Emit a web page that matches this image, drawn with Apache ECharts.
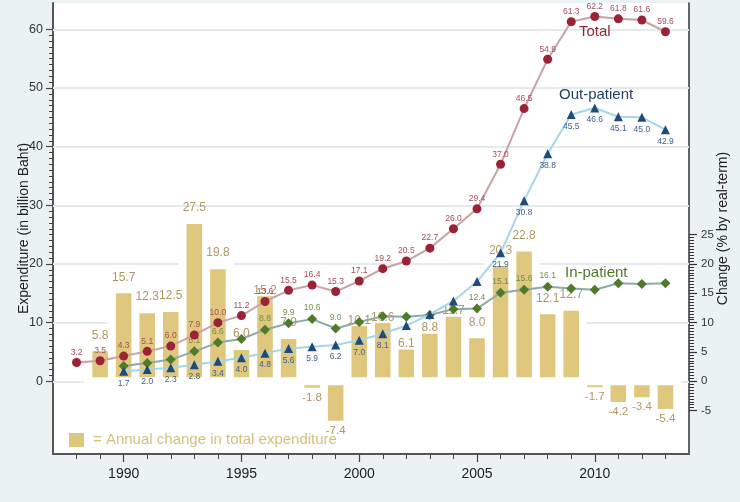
<!DOCTYPE html>
<html><head><meta charset="utf-8">
<script src="https://cdn.jsdelivr.net/npm/echarts@6/dist/echarts.min.js"></script>
<style>html,body{margin:0;padding:0;background:#EAF2F3;}#c{width:740px;height:502px;}</style>
</head><body><div id="c"></div>
<script>
// ---- data ----
const yearsTotal = [1988,1989,1990,1991,1992,1993,1994,1995,1996,1997,1998,1999,2000,2001,2002,2003,2004,2005,2006,2007,2008,2009,2010,2011,2012,2013];
const totalExp = [3.2,3.5,4.3,5.1,6.0,7.9,10.0,11.2,13.6,15.5,16.4,15.3,17.1,19.2,20.5,22.7,26.0,29.4,37.0,46.5,54.9,61.3,62.2,61.8,61.6,59.6];
const yearsSub = [1990,1991,1992,1993,1994,1995,1996,1997,1998,1999,2000,2001,2002,2003,2004,2005,2006,2007,2008,2009,2010,2011,2012,2013];
const outPatient = [1.7,2.0,2.3,2.8,3.4,4.0,4.8,5.6,5.9,6.2,7.0,8.1,9.5,11.4,13.7,17.0,21.9,30.8,38.8,45.5,46.6,45.1,45.0,42.9];
const inPatient = [2.6,3.1,3.7,5.1,6.6,7.2,8.8,9.9,10.6,9.0,10.1,11.1,11.0,11.3,12.3,12.4,15.1,15.6,16.1,15.8,15.6,16.7,16.6,16.7];
const yearsChange = [1989,1990,1991,1992,1993,1994,1995,1996,1997,1998,1999,2000,2001,2002,2003,2004,2005,2006,2007,2008,2009,2010,2011,2012,2013];
const annualChange = [5.8,15.7,12.3,12.5,27.5,19.8,6.0,15.2,7.9,-1.8,-7.4,10.1,10.6,6.1,8.8,11.7,8.0,20.3,22.8,12.1,12.7,-1.7,-4.2,-3.4,-5.4];
const xTickLabels = [1990,1995,2000,2005,2010];
const leftTickLabels = [0,10,20,30,40,50,60];
const rightTickLabels = [-5,0,5,10,15,20,25];
// which point labels are shown in the original
const inLabelYears = [1993,1994,1996,1997,1998,1999,2005,2006,2007,2008];
const outHiddenLabelYears = [2002,2003,2004,2005];
const lowChangeLabelYears = [1996,2000,2001,2002,2003,2004];

// ---- styling helpers ----
const F = 'Liberation Sans, Arial, Helvetica, sans-serif';
const yMin = -12.4, yMax = 64.5;
const leftMinor = []; for (let v = 0; v <= 60; v++) leftMinor.push(v);
const rightMinor = []; for (let v = -5; v <= 25.001; v += 0.5) rightMinor.push(+v.toFixed(1));
const xMinor = yearsTotal.slice();
const gridCol = '#E3EBEE';
// visible stretches of the light gridlines (the rest is masked in the original)
const seg = (v, a, b) => [{coord: [a, v]}, {coord: [b, v]}];
const gridSegments = [
  seg(0, 1987, 1988.33), seg(0, 2013.67, 2014),
  seg(10, 1987, 1989.3), seg(10, 2009.67, 2014),
  seg(20, 1987, 1992.33), seg(20, 1994.67, 2005.33), seg(20, 2007.67, 2014),
  seg(30, 1987, 2014), seg(40, 1987, 2014), seg(50, 1987, 2014), seg(60, 1987, 2014)
];

const chart = echarts.init(document.getElementById('c'), null, {renderer: 'canvas'});
const fmt1 = p => Number(p.value[1]).toFixed(1);

const option = {
  animation: false,
  backgroundColor: '#EAF2F3',
  grid: {left: 53, right: 51, top: 3, bottom: 48, show: true, backgroundColor: '#ffffff', borderWidth: 0, containLabel: false, outerBoundsMode: 'none'},
  xAxis: [
    {type: 'value', min: 1987, max: 2014, position: 'bottom',
     axisLine: {show: true, onZero: false, lineStyle: {color: '#555', width: 2}},
     axisTick: {show: true, customValues: xTickLabels, length: 8, lineStyle: {color: '#444', width: 1.2}},
     axisLabel: {customValues: xTickLabels, formatter: v => String(v), fontSize: 14, color: '#222', fontFamily: F, margin: 13},
     splitLine: {show: false}},
    {type: 'value', min: 1987, max: 2014, position: 'bottom',
     axisLine: {show: false, onZero: false},
     axisTick: {show: true, customValues: xMinor, length: 5, lineStyle: {color: '#444', width: 1}},
     axisLabel: {show: false}, splitLine: {show: false}}
  ],
  yAxis: [
    {type: 'value', min: yMin, max: yMax, position: 'left',
     axisLine: {show: true, onZero: false, lineStyle: {color: '#555', width: 2}},
     axisTick: {show: true, customValues: leftTickLabels, length: 7, lineStyle: {color: '#444', width: 1.2}},
     axisLabel: {customValues: leftTickLabels, formatter: v => String(v), fontSize: 12.5, color: '#333', fontFamily: F, margin: 10},
     splitLine: {show: false},
     name: 'Expenditure (in billion Baht)', nameLocation: 'middle', nameGap: 22, nameRotate: 90, nameMoveOverlap: false,
     nameTextStyle: {fontSize: 14, color: '#222', fontFamily: F}},
    {type: 'value', min: yMin, max: yMax, position: 'right',
     axisLine: {show: true, onZero: false, lineStyle: {color: '#333', width: 1.5}},
     axisTick: {show: true, customValues: rightTickLabels, length: 8, lineStyle: {color: '#333', width: 1.2}},
     axisLabel: {customValues: rightTickLabels, formatter: v => String(v), fontSize: 11.5, color: '#333', fontFamily: F, margin: 12},
     splitLine: {show: false},
     name: 'Change (% by real-term)', nameLocation: 'middle', nameGap: 27, nameRotate: 90, nameMoveOverlap: false,
     nameTextStyle: {fontSize: 14, color: '#222', fontFamily: F}},
    {type: 'value', min: yMin, max: yMax, position: 'left',
     axisLine: {show: false, onZero: false},
     axisTick: {show: true, customValues: leftMinor, length: 4, lineStyle: {color: '#444', width: 1}},
     axisLabel: {show: false}, splitLine: {show: false}},
    {type: 'value', min: yMin, max: yMax, position: 'right',
     axisLine: {show: false, onZero: false},
     axisTick: {show: true, customValues: rightMinor, length: 5, lineStyle: {color: '#333', width: 1}},
     axisLabel: {show: false}, splitLine: {show: false}}
  ],
  series: [
    {type: 'line', name: 'gridlines', xAxisIndex: 0, yAxisIndex: 0, data: [], z: 1, silent: true,
     markLine: {silent: true, z: 1, animation: false, symbol: ['none', 'none'], label: {show: false},
       lineStyle: {color: gridCol, width: 2, type: 'solid'},
       emphasis: {disabled: true},
       data: gridSegments}},
    {type: 'bar', name: 'Annual change', xAxisIndex: 0, yAxisIndex: 1, z: 2, barWidth: 23.55, barCategoryGap: '0%', barGap: '0%',
     itemStyle: {color: '#DFC77E', borderColor: '#ffffff', borderWidth: 4},
     label: {show: true, color: '#AE9866', fontFamily: F, fontSize: 12, formatter: fmt1},
     data: yearsChange.map((y, i) => {
       const v = annualChange[i];
       const neg = v < 0;
       return {value: [y, v], label: {position: neg ? 'bottom' : 'top', distance: neg ? 0 : (lowChangeLabelYears.includes(y) ? -4.5 : 6), fontSize: neg ? 11.5 : 12}};
     })},
    {type: 'line', name: 'In-patient', xAxisIndex: 0, yAxisIndex: 0, z: 3, showAllSymbol: true,
     symbol: 'diamond', symbolSize: 10,
     itemStyle: {color: '#4E7A2A'}, lineStyle: {color: '#8DAAA8', width: 2},
     label: {show: true, position: 'top', distance: 1.5, fontSize: 8.5, color: '#6F9147', fontFamily: F, formatter: fmt1},
     data: yearsSub.map((y, i) => ({value: [y, inPatient[i]], label: {show: inLabelYears.includes(y)}}))},
    {type: 'line', name: 'Out-patient', xAxisIndex: 0, yAxisIndex: 0, z: 4, showAllSymbol: true,
     symbol: 'triangle', symbolSize: 9,
     itemStyle: {color: '#1F4A7A'}, lineStyle: {color: '#A6D6E8', width: 2},
     label: {show: true, position: 'bottom', distance: 3, fontSize: 8.5, color: '#3D5F88', fontFamily: F, formatter: fmt1},
     data: yearsSub.map((y, i) => ({value: [y, outPatient[i]], label: {show: !outHiddenLabelYears.includes(y)}}))},
    {type: 'line', name: 'Total', xAxisIndex: 0, yAxisIndex: 0, z: 5, showAllSymbol: true,
     symbol: 'circle', symbolSize: 9,
     itemStyle: {color: '#9B2335'}, lineStyle: {color: '#C9A2A4', width: 2},
     label: {show: true, position: 'top', distance: 1, fontSize: 8.5, color: '#A64D5A', fontFamily: F, formatter: fmt1},
     data: yearsTotal.map((y, i) => [y, totalExp[i]])}
  ],
  graphic: [
    {type: 'text', left: 579, top: 24, z: 100, style: {text: 'Total', fontSize: 15, fontFamily: F, fill: '#8B2A35'}},
    {type: 'text', left: 559, top: 87, z: 100, style: {text: 'Out-patient', fontSize: 15, fontFamily: F, fill: '#223F6C'}},
    {type: 'text', left: 565, top: 265, z: 100, style: {text: 'In-patient', fontSize: 15, fontFamily: F, fill: '#4E7A2A'}},
    {type: 'rect', left: 69, top: 433, z: 100, shape: {width: 15, height: 14}, style: {fill: '#DFC77E'}},
    {type: 'text', left: 93, top: 432, z: 100, style: {text: '= Annual change in total expenditure', fontSize: 15, fontFamily: F, fill: '#D6BF7B'}}
  ]
};
chart.setOption(option);
</script>
</body></html>
